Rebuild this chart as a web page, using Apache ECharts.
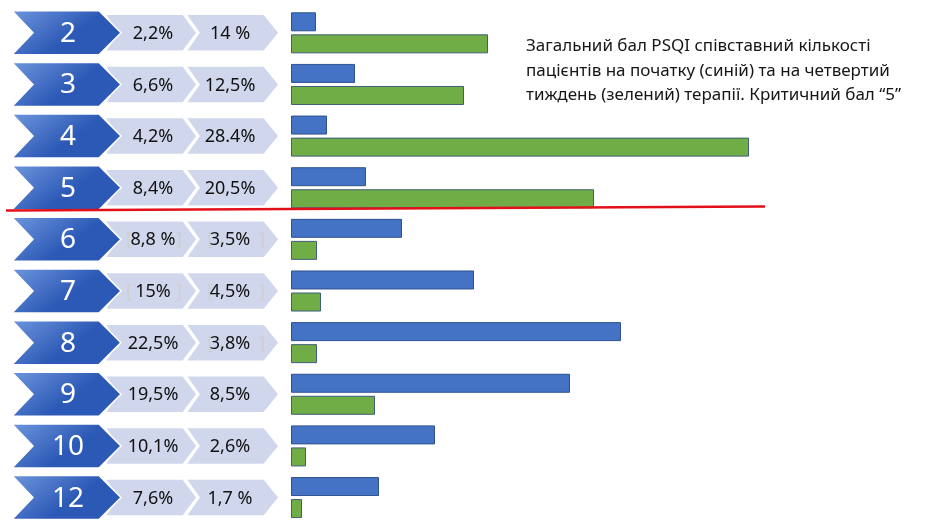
<!DOCTYPE html>
<html>
<head>
<meta charset="utf-8">
<script src="https://cdn.jsdelivr.net/npm/echarts@6/dist/echarts.min.js"></script>
<style>
  html, body { margin: 0; padding: 0; background: #fff; }
  #main { width: 929px; height: 527px; }
</style>
</head>
<body>
<div id="main"></div>
<script>
// бал PSQI (останній рядок обрізаний знизу)
var scores = ['2', '3', '4', '5', '6', '7', '8', '9', '10', '12', ''];
var startPct = ['2,2%', '6,6%', '4,2%', '8,4%', '8,8 %', '15%', '22,5%', '19,5%', '10,1%', '7,6%', ''];
var week4Pct = ['14 %', '12,5%', '28.4%', '20,5%', '3,5%', '4,5%', '3,8%', '8,5%', '2,6%', '1,7 %', ''];
// довжина смуг, як на малюнку
var startLen = [25, 64, 36, 75, 111, 183, 330, 279, 144, 88, null];
var week4Len = [197, 173, 458, 303, 26, 30, 26, 84, 15, 11, null];
// сірі дужки-заглушки навколо деяких підписів
var ghostStart = [0, 0, 0, 0, 1, 1, 0, 0, 0, 0, 0];
var ghostWeek4 = [0, 0, 0, 0, 1, 1, 1, 0, 0, 0, 0];
var criticalScore = '5';

var titleText = 'Загальний бал PSQI співставний кількості\n' +
	'пацієнтів на початку (синій) та на четвертий\n' +
	'тиждень (зелений) терапії. Критичний бал “5”';

var font = '"Noto Sans", "DejaVu Sans", sans-serif';

var chart = echarts.init(document.getElementById('main'));

function chevron(api, i, l, n, r, t, hh, fill) {
	var y = api.coord([0, i])[1];
	var p = function (v) { return api.coord([v, i])[0]; };
	return {
		type: 'polygon',
		shape: {
			points: [
				[p(l), y - hh], [p(r), y - hh], [p(t), y],
				[p(r), y + hh], [p(l), y + hh], [p(n), y]
			]
		},
		style: { fill: fill, stroke: '#fff', lineWidth: 1.5 }
	};
}

function label(api, i, x, text, size, color) {
	var y = api.coord([0, i])[1];
	return {
		type: 'text',
		style: {
			text: text, x: api.coord([x, i])[0], y: y + 1,
			align: 'center', verticalAlign: 'middle',
			fontSize: size, fontFamily: font, fill: color
		}
	};
}

function renderRow(params, api) {
	var i = api.value(1);
	var blue = new echarts.graphic.LinearGradient(0, 0, 0.3, 1, [
		{ offset: 0, color: '#6f97dd' },
		{ offset: 1, color: '#2c59b6' }
	]);
	var kids = [
		chevron(api, i, -105, -92, -27, -12, 18.5, '#d0d6ec'),
		chevron(api, i, -186, -173, -108, -94, 18.5, '#d0d6ec'),
		chevron(api, i, -279, -258, -192, -170, 22, blue)
	];
	if (ghostStart[i]) {
		kids.push(label(api, i, -162, '[', 18, '#cfcfcf'));
		kids.push(label(api, i, -112, ']', 18, '#cfcfcf'));
	}
	if (ghostWeek4[i]) {
		kids.push(label(api, i, -81, '[', 18, '#cfcfcf'));
		kids.push(label(api, i, -29, ']', 18, '#cfcfcf'));
	}
	kids.push(label(api, i, -223, scores[i], 28, '#fff'));
	kids.push(label(api, i, -138, startPct[i], 18, '#111'));
	kids.push(label(api, i, -61, week4Pct[i], 18, '#111'));
	return { type: 'group', children: kids };
}

var option = {
	backgroundColor: '#fff',
	animation: false,
	title: {
		text: titleText,
		left: 521,
		top: 29,
		textStyle: {
			fontFamily: font,
			fontSize: 17,
			fontWeight: 'normal',
			lineHeight: 24.5,
			color: '#161616'
		}
	},
	grid: { left: 0, width: 929, top: 7, height: 568, outerBoundsMode: 'none' },
	xAxis: {
		type: 'value',
		min: -291,
		max: 638,
		show: false
	},
	yAxis: {
		type: 'category',
		data: scores,
		inverse: true,
		show: false
	},
	series: [
		{
			name: 'на початку',
			type: 'bar',
			data: startLen,
			barWidth: 19,
			barGap: '16%',
			itemStyle: { color: '#4472c4', borderColor: '#2f528f', borderWidth: 1 }
		},
		{
			name: 'четвертий тиждень',
			type: 'bar',
			data: week4Len,
			barWidth: 19,
			itemStyle: { color: '#70ad47', borderColor: '#3f5e78', borderWidth: 1 }
		},
		{
			type: 'custom',
			renderItem: renderRow,
			encode: { x: 0, y: 1 },
			data: scores.map(function (s, i) { return [0, i]; }),
			z: 1
		}
	]
};
chart.setOption(option);

// червона лінія під критичним балом
var k = scores.indexOf(criticalScore);
var yA = chart.convertToPixel({ yAxisIndex: 0 }, scores[k]);
var yB = chart.convertToPixel({ yAxisIndex: 0 }, scores[k + 1]);
var yMid = (yA + yB) / 2;
chart.setOption({
	graphic: [{
		type: 'line',
		shape: {
			x1: chart.convertToPixel({ xAxisIndex: 0 }, -285), y1: yMid - 3,
			x2: chart.convertToPixel({ xAxisIndex: 0 }, 474), y2: yMid - 7
		},
		style: { stroke: '#e3101a', lineWidth: 2.5 },
		z: 10
	}]
});
</script>
</body>
</html>
